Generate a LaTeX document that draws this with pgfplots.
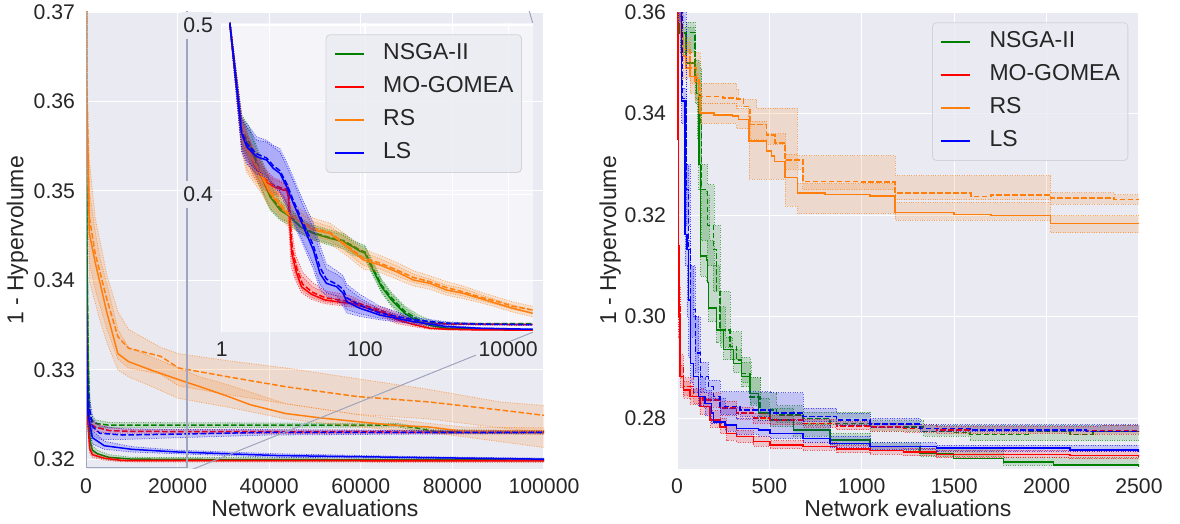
\documentclass[border=0pt]{standalone}
\usepackage{fontspec}
\setmainfont{Liberation Sans}
\usepackage{pgfplots}
\pgfplotsset{compat=1.18}
\definecolor{bg}{HTML}{EAEAF2}
\definecolor{txt}{HTML}{262626}
\definecolor{cG}{HTML}{008000}
\definecolor{cR}{HTML}{FF0000}
\definecolor{cO}{HTML}{FF7F0E}
\definecolor{cB}{HTML}{0000FF}
\definecolor{rectc}{HTML}{9FA5BC}
\definecolor{legedge}{HTML}{D2D2DA}
\pgfplotsset{
  sb/.style={
    scale only axis, anchor=south west,
    axis background/.style={fill=bg},
    axis line style={draw=none},
    major tick length=0pt, minor tick length=0pt,
    xmajorgrids, ymajorgrids,
    major grid style={white, line width=0.6pt},
    tick label style={font=\fontsize{10.6}{12}\selectfont, text=txt},
    xticklabel style={anchor=north, inner sep=0pt, yshift=-4.65pt},
    yticklabel style={anchor=east, inner sep=0pt, xshift=-5.3pt},
    label style={font=\fontsize{11.5}{13.8}\selectfont, text=txt},
    xlabel style={anchor=base, inner sep=0pt},
    ylabel style={anchor=base, inner sep=0pt},
    scaled ticks=false,
  },
  leg/.style={
    legend image code/.code={\draw[##1] (0pt,0pt) -- (14.5pt,0pt);},
    legend cell align=left,
    legend style={at={#1}, anchor=north west,
      fill=bg, fill opacity=0.8, text opacity=1, draw=legedge, rounded corners=2pt,
      font=\fontsize{11.5}{13.8}\selectfont, text=txt,
      inner xsep=4pt, inner ysep=4.4pt, row sep=5.9pt,
      nodes={inner sep=0pt, text height=8.2pt, text depth=2.4pt},
      /tikz/every odd column/.append style={column sep=9.3pt}},
  },
  ln/.style={line width=0.75pt, forget plot},
  dsh/.style={dash pattern=on 2.8pt off 1.2pt},
  bedge/.style={line width=0.4pt, dash pattern=on 0.5pt off 0.7pt, draw opacity=0.6, forget plot},
  bfill/.style={fill=#1, fill opacity=0.16, draw=none, forget plot},
}
\begin{document}
\begin{tikzpicture}
\useasboundingbox (0,0) rectangle (590pt,262pt);
% ================= LEFT MAIN AXIS =================
\begin{axis}[sb, at={(43pt,27.5pt)}, width=229pt, height=228.5pt,
  xmin=0, xmax=100000, ymin=0.3189, ymax=0.37,
  xtick={0,20000,40000,60000,80000,100000}, xticklabels={0,20000,40000,60000,80000,100000},
  ytick={0.32,0.33,0.34,0.35,0.36,0.37}, yticklabels={0.32,0.33,0.34,0.35,0.36,0.37},
  xlabel={Network evaluations}, ylabel={1 - Hypervolume},
  xlabel style={at={(axis description cs:0.5,-0.105)}},
  ylabel style={at={(axis description cs:-0.1365,0.5)}},
]
% NSGA-II
\addplot[bfill=cG] coordinates {(1,0.5)(100,0.366)(200,0.350)(400,0.336)(600,0.329)(900,0.3235)(1400,0.3215)(2500,0.3210)(5000,0.3205)(10000,0.3202)(100000,0.3201)(100000,0.3197)(10000,0.3198)(5000,0.3199)(2500,0.3202)(1400,0.3205)(900,0.3210)(600,0.3235)(400,0.328)(200,0.338)(100,0.356)(1,0.5)};
\addplot[bedge,cG] coordinates {(1,0.5)(100,0.366)(200,0.350)(400,0.336)(600,0.329)(900,0.3235)(1400,0.3215)(2500,0.3210)(5000,0.3205)(10000,0.3202)(100000,0.3201)};
\addplot[bedge,cG] coordinates {(1,0.5)(100,0.356)(200,0.338)(400,0.328)(600,0.3235)(900,0.3210)(1400,0.3205)(2500,0.3202)(5000,0.3199)(10000,0.3198)(100000,0.3197)};
\addplot[bfill=cG] coordinates {(1,0.5)(100,0.366)(200,0.350)(400,0.337)(700,0.329)(1000,0.3252)(2000,0.3244)(5000,0.3241)(68000,0.3240)(76000,0.3233)(100000,0.3232)(100000,0.3228)(76000,0.3229)(72000,0.3232)(68000,0.3236)(5000,0.3235)(2000,0.3235)(1000,0.3238)(700,0.3245)(400,0.329)(200,0.339)(100,0.357)(1,0.5)};
\addplot[bedge,cG] coordinates {(1,0.5)(100,0.366)(200,0.350)(400,0.337)(700,0.329)(1000,0.3252)(2000,0.3244)(5000,0.3241)(68000,0.3240)(76000,0.3233)(100000,0.3232)};
\addplot[bedge,cG] coordinates {(1,0.5)(100,0.357)(200,0.339)(400,0.329)(700,0.3245)(1000,0.3238)(2000,0.3235)(5000,0.3235)(68000,0.3236)(72000,0.3232)(76000,0.3229)(100000,0.3228)};
\addplot[ln,cG] coordinates {(1,0.5)(100,0.3613)(200,0.3436)(400,0.3318)(600,0.3259)(900,0.3220)(1400,0.3210)(2500,0.3206)(5000,0.3202)(10000,0.3200)(30000,0.31995)(100000,0.3199)};
\addplot[ln,dsh,cG] coordinates {(1,0.5)(100,0.3620)(200,0.3445)(400,0.3330)(700,0.3265)(1000,0.3245)(2000,0.3240)(5000,0.3238)(68000,0.3238)(72000,0.3235)(76000,0.3231)(100000,0.3230)};
% MO-GOMEA
\addplot[bfill=cR] coordinates {(1,0.5)(10,0.368)(40,0.340)(100,0.335)(300,0.3260)(800,0.3218)(1400,0.3208)(4000,0.3203)(8000,0.3200)(100000,0.31995)(100000,0.31965)(8000,0.3197)(4000,0.3199)(1400,0.3202)(800,0.3207)(300,0.3240)(100,0.331)(40,0.335)(10,0.355)(1,0.5)};
\addplot[bedge,cR] coordinates {(1,0.5)(10,0.368)(40,0.340)(100,0.335)(300,0.3260)(800,0.3218)(1400,0.3208)(4000,0.3203)(8000,0.3200)(100000,0.31995)};
\addplot[bedge,cR] coordinates {(1,0.5)(10,0.355)(40,0.335)(100,0.331)(300,0.3240)(800,0.3207)(1400,0.3202)(4000,0.3199)(8000,0.3197)(100000,0.31965)};
\addplot[bfill=cR] coordinates {(1,0.5)(10,0.370)(40,0.342)(100,0.336)(300,0.3272)(800,0.3246)(2000,0.3240)(5000,0.3235)(10000,0.3233)(100000,0.3232)(100000,0.3228)(10000,0.3229)(5000,0.3229)(2000,0.3231)(800,0.3234)(300,0.3252)(100,0.332)(40,0.336)(10,0.358)(1,0.5)};
\addplot[bedge,cR] coordinates {(1,0.5)(10,0.370)(40,0.342)(100,0.336)(300,0.3272)(800,0.3246)(2000,0.3240)(5000,0.3235)(10000,0.3233)(100000,0.3232)};
\addplot[bedge,cR] coordinates {(1,0.5)(10,0.358)(40,0.336)(100,0.332)(300,0.3252)(800,0.3234)(2000,0.3231)(5000,0.3229)(10000,0.3229)(100000,0.3228)};
\addplot[ln,cR] coordinates {(1,0.5)(10,0.3613)(40,0.3377)(100,0.3330)(300,0.3249)(800,0.3212)(1400,0.3205)(4000,0.3201)(8000,0.31985)(100000,0.3198)};
\addplot[ln,dsh,cR] coordinates {(1,0.5)(10,0.3640)(40,0.3390)(100,0.3340)(300,0.3262)(800,0.3240)(2000,0.3236)(5000,0.3232)(10000,0.3231)(100000,0.3230)};
% RS
\addplot[bfill=cO] coordinates {(1,0.5)(300,0.358)(500,0.3555)(720,0.350)(2000,0.3455)(3060,0.3425)(4600,0.3395)(6960,0.3345)(9300,0.3325)(14000,0.3315)(20200,0.3302)(24900,0.3292)(31100,0.3283)(43600,0.3262)(59200,0.3250)(74800,0.3240)(82600,0.3236)(100000,0.3235)(100000,0.3213)(82600,0.3225)(74800,0.3230)(59200,0.3236)(43600,0.3245)(31100,0.3258)(20200,0.3268)(14000,0.3282)(9300,0.3292)(6960,0.3300)(4600,0.3330)(3060,0.3355)(2000,0.3375)(720,0.340)(500,0.347)(300,0.350)(1,0.5)};
\addplot[bedge,cO] coordinates {(1,0.5)(300,0.358)(500,0.3555)(720,0.350)(2000,0.3455)(3060,0.3425)(4600,0.3395)(6960,0.3345)(9300,0.3325)(14000,0.3315)(20200,0.3302)(24900,0.3292)(31100,0.3283)(43600,0.3262)(59200,0.3250)(74800,0.3240)(82600,0.3236)(100000,0.3235)};
\addplot[bedge,cO] coordinates {(1,0.5)(300,0.350)(500,0.347)(720,0.340)(2000,0.3375)(3060,0.3355)(4600,0.3330)(6960,0.3300)(9300,0.3292)(14000,0.3282)(20200,0.3268)(31100,0.3258)(43600,0.3245)(59200,0.3236)(74800,0.3230)(82600,0.3225)(100000,0.3213)};
\addplot[bfill=cO] coordinates {(1,0.5)(300,0.362)(720,0.3535)(2000,0.3470)(4600,0.3405)(6960,0.3365)(9300,0.3345)(16300,0.3325)(20200,0.3318)(31100,0.3310)(43600,0.3302)(59200,0.3290)(74800,0.3278)(90400,0.3264)(100000,0.3260)(100000,0.3230)(90400,0.3235)(74800,0.3245)(59200,0.3250)(43600,0.3262)(31100,0.3272)(20200,0.3282)(16300,0.3295)(9300,0.3302)(6960,0.3312)(4600,0.3345)(2000,0.339)(720,0.342)(300,0.354)(1,0.5)};
\addplot[bedge,cO] coordinates {(1,0.5)(300,0.362)(720,0.3535)(2000,0.3470)(4600,0.3405)(6960,0.3365)(9300,0.3345)(16300,0.3325)(20200,0.3318)(31100,0.3310)(43600,0.3302)(59200,0.3290)(74800,0.3278)(90400,0.3264)(100000,0.3260)};
\addplot[bedge,cO] coordinates {(1,0.5)(300,0.354)(720,0.342)(2000,0.339)(4600,0.3345)(6960,0.3312)(9300,0.3302)(16300,0.3295)(20200,0.3282)(31100,0.3272)(43600,0.3262)(59200,0.3250)(74800,0.3245)(90400,0.3235)(100000,0.3230)};
\addplot[ln,cO] coordinates {(1,0.5)(100,0.3613)(300,0.3560)(500,0.3527)(720,0.3453)(2000,0.3420)(3060,0.3397)(4600,0.3363)(6960,0.3318)(9300,0.3309)(14000,0.3300)(20200,0.3289)(24900,0.3281)(31100,0.3270)(35800,0.3261)(43600,0.3251)(51400,0.3246)(59200,0.3242)(67000,0.3238)(74800,0.3236)(82600,0.3231)(100000,0.3231)};
\addplot[ln,dsh,cO] coordinates {(1,0.5)(100,0.3630)(300,0.3580)(720,0.3471)(2000,0.3430)(4600,0.3378)(6960,0.3337)(9300,0.3324)(16300,0.3315)(20200,0.3302)(31100,0.3292)(43600,0.3281)(59200,0.3270)(74800,0.3264)(90400,0.3255)(100000,0.3249)};
% LS
\addplot[bfill=cB] coordinates {(1,0.5)(20,0.373)(50,0.343)(160,0.332)(470,0.3262)(1400,0.3232)(4000,0.3220)(10000,0.3214)(20000,0.3210)(42000,0.3206)(70000,0.3203)(100000,0.3201)(100000,0.3199)(70000,0.3201)(42000,0.3202)(20000,0.3206)(10000,0.3208)(4000,0.3211)(1400,0.3217)(470,0.3238)(160,0.3265)(50,0.331)(20,0.361)(1,0.5)};
\addplot[bedge,cB] coordinates {(1,0.5)(20,0.373)(50,0.343)(160,0.332)(470,0.3262)(1400,0.3232)(4000,0.3220)(10000,0.3214)(20000,0.3210)(42000,0.3206)(70000,0.3203)(100000,0.3201)};
\addplot[bedge,cB] coordinates {(1,0.5)(20,0.361)(50,0.331)(160,0.3265)(470,0.3238)(1400,0.3217)(4000,0.3211)(10000,0.3208)(20000,0.3206)(42000,0.3202)(70000,0.3201)(100000,0.3199)};
\addplot[bfill=cB] coordinates {(1,0.5)(20,0.375)(60,0.345)(200,0.334)(600,0.3275)(1500,0.3245)(3000,0.3237)(8000,0.3234)(20000,0.3233)(40000,0.3233)(70000,0.3232)(100000,0.3231)(100000,0.3229)(70000,0.3228)(40000,0.3227)(20000,0.3224)(8000,0.3222)(3000,0.3222)(1500,0.3226)(600,0.3245)(200,0.327)(60,0.333)(20,0.362)(1,0.5)};
\addplot[bedge,cB] coordinates {(1,0.5)(20,0.375)(60,0.345)(200,0.334)(600,0.3275)(1500,0.3245)(3000,0.3237)(8000,0.3234)(20000,0.3233)(40000,0.3233)(70000,0.3232)(100000,0.3231)};
\addplot[bedge,cB] coordinates {(1,0.5)(20,0.362)(60,0.333)(200,0.327)(600,0.3245)(1500,0.3226)(3000,0.3222)(8000,0.3222)(20000,0.3224)(40000,0.3227)(70000,0.3228)(100000,0.3229)};
\addplot[ln,cB] coordinates {(1,0.5)(20,0.3672)(50,0.3367)(160,0.3288)(470,0.3249)(1400,0.3224)(4000,0.3215)(10000,0.3211)(20000,0.3208)(42000,0.3204)(70000,0.3202)(100000,0.3200)};
\addplot[ln,dsh,cB] coordinates {(1,0.5)(20,0.3690)(60,0.3390)(200,0.3300)(600,0.3260)(1500,0.3236)(3000,0.3229)(8000,0.3227)(20000,0.3228)(40000,0.3230)(100000,0.3230)};
% inset marker and connectors
\addplot[rectc, line width=0.8pt, forget plot] coordinates {(150,0.31905)(22000,0.31905)(22000,0.5014)(150,0.5014)(150,0.31905)};
\addplot[rectc, line width=0.5pt, forget plot] coordinates {(22000,0.3186)(97533,0.33419)};
\addplot[rectc, line width=0.5pt, forget plot] coordinates {(22000,0.5014)(97533,0.36878)};
\end{axis}
% ================= INSET =================
\begin{axis}[sb, leg={(0.3344,0.9625)}, at={(110.85pt,95.85pt)}, width=155.5pt, height=154.8pt,
  axis background/.style={fill=white, fill opacity=0.55},
  xmode=log, xmin=1, xmax=22000, ymin=0.3186, ymax=0.5014,
  xtick={1,100,10000}, xticklabels={1,100,10000},
  ytick={0.4,0.5}, yticklabels={0.4,0.5},
  xticklabel style={fill=bg, inner xsep=1.5pt, inner ysep=0.5pt, yshift=0.5pt},
  yticklabel style={fill=bg, inner xsep=0.5pt, inner ysep=3pt, xshift=1.6pt},
]
\addlegendimage{cG, line width=0.75pt}
\addlegendimage{cR, line width=0.75pt}
\addlegendimage{cO, line width=0.75pt}
\addlegendimage{cB, line width=0.75pt}
% NSGA-II
\addplot[bfill=cG] coordinates {(1.3,0.503)(1.9,0.445)(2.48,0.437)(3.43,0.421)(4.72,0.406)(6.5,0.396)(9,0.391)(12.3,0.385)(18.9,0.381)(32.4,0.378)(49.7,0.376)(68.5,0.372)(85,0.370)(100,0.369)(123,0.361)(170,0.349)(235,0.341)(360,0.333)(550,0.3275)(850,0.3240)(1372,0.3216)(4000,0.3207)(22000,0.3202)(22000,0.3198)(4000,0.3201)(1372,0.3205)(850,0.3218)(550,0.3225)(360,0.3268)(235,0.334)(170,0.342)(123,0.354)(100,0.362)(85,0.363)(68.5,0.364)(49.7,0.368)(32.4,0.370)(18.9,0.373)(12.3,0.377)(9,0.382)(6.5,0.385)(4.72,0.391)(3.43,0.404)(2.48,0.419)(1.9,0.428)(1.3,0.499)};
\addplot[bedge,cG] coordinates {(1.3,0.503)(1.9,0.445)(2.48,0.437)(3.43,0.421)(4.72,0.406)(6.5,0.396)(9,0.391)(12.3,0.385)(18.9,0.381)(32.4,0.378)(49.7,0.376)(68.5,0.372)(85,0.370)(100,0.369)(123,0.361)(170,0.349)(235,0.341)(360,0.333)(550,0.3275)(850,0.3240)(1372,0.3216)(4000,0.3207)(22000,0.3202)};
\addplot[bedge,cG] coordinates {(1.3,0.499)(1.9,0.428)(2.48,0.419)(3.43,0.404)(4.72,0.391)(6.5,0.385)(9,0.382)(12.3,0.377)(18.9,0.373)(32.4,0.370)(49.7,0.368)(68.5,0.364)(85,0.363)(100,0.362)(123,0.354)(170,0.342)(235,0.334)(360,0.3268)(550,0.3225)(850,0.3218)(1372,0.3205)(4000,0.3201)(22000,0.3198)};
\addplot[bfill=cG] coordinates {(1.3,0.503)(1.9,0.447)(2.48,0.439)(3.43,0.423)(4.72,0.408)(6.5,0.398)(9,0.392)(12.3,0.386)(18.9,0.382)(32.4,0.379)(49.7,0.377)(68.5,0.373)(85,0.371)(100,0.370)(123,0.362)(170,0.350)(235,0.342)(360,0.334)(550,0.3290)(850,0.3255)(1372,0.3243)(4000,0.3240)(22000,0.3239)(22000,0.3234)(4000,0.3234)(1372,0.3234)(850,0.3236)(550,0.3245)(360,0.3280)(235,0.335)(170,0.343)(123,0.355)(100,0.363)(85,0.364)(68.5,0.365)(49.7,0.369)(32.4,0.371)(18.9,0.374)(12.3,0.378)(9,0.383)(6.5,0.386)(4.72,0.392)(3.43,0.406)(2.48,0.421)(1.9,0.430)(1.3,0.499)};
\addplot[bedge,cG] coordinates {(1.3,0.503)(1.9,0.447)(2.48,0.439)(3.43,0.423)(4.72,0.408)(6.5,0.398)(9,0.392)(12.3,0.386)(18.9,0.382)(32.4,0.379)(49.7,0.377)(68.5,0.373)(85,0.371)(100,0.370)(123,0.362)(170,0.350)(235,0.342)(360,0.334)(550,0.3290)(850,0.3255)(1372,0.3243)(4000,0.3240)(22000,0.3239)};
\addplot[bedge,cG] coordinates {(1.3,0.499)(1.9,0.430)(2.48,0.421)(3.43,0.406)(4.72,0.392)(6.5,0.386)(9,0.383)(12.3,0.378)(18.9,0.374)(32.4,0.371)(49.7,0.369)(68.5,0.365)(85,0.364)(100,0.363)(123,0.355)(170,0.343)(235,0.335)(360,0.3280)(550,0.3245)(850,0.3236)(1372,0.3234)(4000,0.3234)(22000,0.3234)};
\addplot[ln,cG] coordinates {(1.3,0.501)(1.9,0.4361)(2.48,0.4282)(3.43,0.4125)(4.72,0.3987)(6.5,0.3908)(9,0.3869)(12.3,0.3810)(18.9,0.3770)(32.4,0.3741)(49.7,0.3721)(68.5,0.3690)(85,0.3665)(100,0.3653)(123,0.3573)(170,0.3455)(235,0.3377)(360,0.3298)(550,0.3249)(850,0.3225)(1372,0.3210)(4000,0.3204)(22000,0.3200)};
\addplot[ln,dsh,cG] coordinates {(1.3,0.501)(1.9,0.4380)(2.48,0.4300)(3.43,0.4140)(4.72,0.4000)(6.5,0.3920)(9,0.3875)(12.3,0.3815)(18.9,0.3775)(32.4,0.3745)(49.7,0.3728)(68.5,0.3695)(85,0.3672)(100,0.3660)(123,0.3585)(170,0.3465)(235,0.3390)(360,0.3310)(550,0.3262)(850,0.3243)(1372,0.3238)(4000,0.3237)(22000,0.3237)};
% MO-GOMEA
\addplot[bfill=cR] coordinates {(1.3,0.503)(1.9,0.444)(2.76,0.425)(3.8,0.414)(5.25,0.409)(7.25,0.4065)(8.3,0.405)(8.8,0.392)(9.3,0.376)(10.5,0.362)(13,0.352)(18,0.346)(27.6,0.3415)(52,0.3395)(68.5,0.338)(105,0.334)(190,0.3320)(275,0.3290)(473,0.3245)(804,0.3218)(1372,0.3208)(4000,0.3202)(22000,0.3201)(22000,0.3196)(4000,0.3197)(1372,0.3200)(804,0.3204)(473,0.3220)(275,0.3238)(190,0.3272)(105,0.3320)(68.5,0.3335)(52,0.3340)(27.6,0.3355)(18,0.3380)(13,0.3420)(10.5,0.350)(9.3,0.358)(8.8,0.375)(8.3,0.392)(7.25,0.398)(5.25,0.400)(3.8,0.403)(2.76,0.411)(1.9,0.428)(1.3,0.499)};
\addplot[bedge,cR] coordinates {(1.3,0.503)(1.9,0.444)(2.76,0.425)(3.8,0.414)(5.25,0.409)(7.25,0.4065)(8.3,0.405)(8.8,0.392)(9.3,0.376)(10.5,0.362)(13,0.352)(18,0.346)(27.6,0.3415)(52,0.3395)(68.5,0.338)(105,0.334)(190,0.3320)(275,0.3290)(473,0.3245)(804,0.3218)(1372,0.3208)(4000,0.3202)(22000,0.3201)};
\addplot[bedge,cR] coordinates {(1.3,0.499)(1.9,0.428)(2.76,0.411)(3.8,0.403)(5.25,0.400)(7.25,0.398)(8.3,0.392)(8.8,0.375)(9.3,0.358)(10.5,0.350)(13,0.3420)(18,0.3380)(27.6,0.3355)(52,0.3340)(68.5,0.3335)(105,0.3320)(190,0.3272)(275,0.3238)(473,0.3220)(804,0.3204)(1372,0.3200)(4000,0.3197)(22000,0.3196)};
\addplot[bfill=cR] coordinates {(1.3,0.503)(1.9,0.446)(2.76,0.427)(3.8,0.416)(5.25,0.410)(7.25,0.4075)(8.5,0.406)(9,0.393)(9.6,0.378)(10.8,0.364)(13.5,0.354)(18.5,0.348)(28,0.3430)(52,0.3410)(68.5,0.3395)(105,0.3355)(190,0.3330)(275,0.3300)(473,0.3260)(804,0.3243)(1372,0.3239)(4000,0.3236)(22000,0.3234)(22000,0.3228)(4000,0.3229)(1372,0.3230)(804,0.3231)(473,0.3235)(275,0.3250)(190,0.3282)(105,0.3330)(68.5,0.3345)(52,0.3350)(28,0.3365)(18.5,0.3390)(13.5,0.3430)(10.8,0.351)(9.6,0.360)(9,0.377)(8.5,0.393)(7.25,0.3995)(5.25,0.401)(3.8,0.405)(2.76,0.413)(1.9,0.430)(1.3,0.499)};
\addplot[bedge,cR] coordinates {(1.3,0.503)(1.9,0.446)(2.76,0.427)(3.8,0.416)(5.25,0.410)(7.25,0.4075)(8.5,0.406)(9,0.393)(9.6,0.378)(10.8,0.364)(13.5,0.354)(18.5,0.348)(28,0.3430)(52,0.3410)(68.5,0.3395)(105,0.3355)(190,0.3330)(275,0.3300)(473,0.3260)(804,0.3243)(1372,0.3239)(4000,0.3236)(22000,0.3234)};
\addplot[bedge,cR] coordinates {(1.3,0.499)(1.9,0.430)(2.76,0.413)(3.8,0.405)(5.25,0.401)(7.25,0.3995)(8.5,0.393)(9,0.377)(9.6,0.360)(10.8,0.351)(13.5,0.3430)(18.5,0.3390)(28,0.3365)(52,0.3350)(68.5,0.3345)(105,0.3330)(190,0.3282)(275,0.3250)(473,0.3235)(804,0.3231)(1372,0.3230)(4000,0.3229)(22000,0.3228)};
\addplot[ln,cR] coordinates {(1.3,0.501)(1.9,0.4361)(2.76,0.4184)(3.8,0.4085)(5.25,0.4046)(7.25,0.4026)(8.06,0.4026)(8.5,0.3987)(9,0.3800)(9.5,0.3655)(11,0.3540)(13,0.3455)(18,0.3410)(27.6,0.3377)(52,0.3360)(68.5,0.3357)(105,0.3330)(190,0.3298)(275,0.3262)(473,0.3232)(804,0.3210)(1372,0.3204)(4000,0.3200)(22000,0.3199)};
\addplot[ln,dsh,cR] coordinates {(1.3,0.501)(1.9,0.4380)(2.76,0.4200)(3.8,0.4100)(5.25,0.4055)(7.25,0.4035)(8.3,0.4030)(8.7,0.3990)(9.2,0.3810)(9.7,0.3670)(11.3,0.3555)(13.5,0.3470)(18.5,0.3422)(28,0.3390)(52,0.3372)(68.5,0.3368)(105,0.3342)(190,0.3306)(275,0.3275)(473,0.3248)(804,0.3237)(1372,0.3235)(4000,0.3233)(22000,0.3231)};
% RS
\addplot[bfill=cO] coordinates {(1.3,0.503)(1.9,0.444)(2.23,0.434)(3.43,0.420)(4.72,0.408)(8.06,0.395)(19,0.384)(32.4,0.381)(55.5,0.374)(94.8,0.366)(161,0.362)(275,0.358)(473,0.353)(804,0.350)(1372,0.3465)(2340,0.3445)(4000,0.3410)(6820,0.3378)(11600,0.3348)(22000,0.3318)(22000,0.3278)(11600,0.3305)(6820,0.3335)(4000,0.3362)(2340,0.3385)(1372,0.3405)(804,0.344)(473,0.346)(275,0.350)(161,0.354)(94.8,0.356)(55.5,0.364)(32.4,0.371)(19,0.373)(8.06,0.382)(4.72,0.392)(3.43,0.402)(2.23,0.413)(1.9,0.425)(1.3,0.499)};
\addplot[bedge,cO] coordinates {(1.3,0.503)(1.9,0.444)(2.23,0.434)(3.43,0.420)(4.72,0.408)(8.06,0.395)(19,0.384)(32.4,0.381)(55.5,0.374)(94.8,0.366)(161,0.362)(275,0.358)(473,0.353)(804,0.350)(1372,0.3465)(2340,0.3445)(4000,0.3410)(6820,0.3378)(11600,0.3348)(22000,0.3318)};
\addplot[bedge,cO] coordinates {(1.3,0.499)(1.9,0.425)(2.23,0.413)(3.43,0.402)(4.72,0.392)(8.06,0.382)(19,0.373)(32.4,0.371)(55.5,0.364)(94.8,0.356)(161,0.354)(275,0.350)(473,0.346)(804,0.344)(1372,0.3405)(2340,0.3385)(4000,0.3362)(6820,0.3335)(11600,0.3305)(22000,0.3278)};
\addplot[bfill=cO] coordinates {(1.3,0.503)(1.9,0.446)(2.23,0.436)(3.43,0.422)(4.72,0.410)(8.06,0.397)(19,0.386)(32.4,0.383)(55.5,0.376)(94.8,0.368)(161,0.364)(275,0.360)(473,0.355)(804,0.352)(1372,0.3485)(2340,0.3460)(4000,0.3425)(6820,0.3395)(11600,0.3365)(22000,0.3340)(22000,0.3298)(11600,0.3320)(6820,0.3350)(4000,0.3375)(2340,0.3400)(1372,0.3420)(804,0.346)(473,0.348)(275,0.352)(161,0.356)(94.8,0.358)(55.5,0.366)(32.4,0.373)(19,0.375)(8.06,0.384)(4.72,0.394)(3.43,0.404)(2.23,0.415)(1.9,0.427)(1.3,0.499)};
\addplot[bedge,cO] coordinates {(1.3,0.503)(1.9,0.446)(2.23,0.436)(3.43,0.422)(4.72,0.410)(8.06,0.397)(19,0.386)(32.4,0.383)(55.5,0.376)(94.8,0.368)(161,0.364)(275,0.360)(473,0.355)(804,0.352)(1372,0.3485)(2340,0.3460)(4000,0.3425)(6820,0.3395)(11600,0.3365)(22000,0.3340)};
\addplot[bedge,cO] coordinates {(1.3,0.499)(1.9,0.427)(2.23,0.415)(3.43,0.404)(4.72,0.394)(8.06,0.384)(19,0.375)(32.4,0.373)(55.5,0.366)(94.8,0.358)(161,0.356)(275,0.352)(473,0.348)(804,0.346)(1372,0.3420)(2340,0.3400)(4000,0.3375)(6820,0.3350)(11600,0.3320)(22000,0.3298)};
\addplot[ln,cO] coordinates {(1.3,0.501)(1.9,0.4380)(2.23,0.4262)(3.43,0.4125)(4.72,0.4007)(8.06,0.3888)(19,0.3790)(32.4,0.3770)(55.5,0.3692)(94.8,0.3613)(161,0.3584)(275,0.3544)(473,0.3495)(804,0.3475)(1372,0.3436)(2340,0.3416)(4000,0.3387)(6820,0.3357)(11600,0.3328)(22000,0.3298)};
\addplot[ln,dsh,cO] coordinates {(1.3,0.501)(1.9,0.4390)(2.23,0.4275)(3.43,0.4140)(4.72,0.4020)(8.06,0.3900)(19,0.3800)(32.4,0.3778)(55.5,0.3700)(94.8,0.3625)(161,0.3595)(275,0.3555)(473,0.3510)(804,0.3485)(1372,0.3450)(2340,0.3425)(4000,0.3395)(6820,0.3370)(11600,0.3340)(22000,0.3318)};
% LS
\addplot[bfill=cB] coordinates {(1.3,0.503)(1.9,0.444)(2.23,0.440)(3.08,0.432)(4.24,0.431)(5.25,0.428)(6.5,0.425)(8.06,0.417)(10,0.408)(13.8,0.393)(19,0.380)(23.5,0.366)(29,0.356)(40,0.353)(49.7,0.350)(55.5,0.345)(85,0.339)(161,0.332)(473,0.3265)(1372,0.3228)(4000,0.3213)(22000,0.3206)(22000,0.3202)(4000,0.3207)(1372,0.3213)(473,0.3235)(161,0.3260)(85,0.3280)(55.5,0.330)(49.7,0.334)(40,0.338)(29,0.340)(23.5,0.344)(19,0.356)(13.8,0.370)(10,0.383)(8.06,0.393)(6.5,0.401)(5.25,0.405)(4.24,0.410)(3.08,0.412)(2.23,0.418)(1.9,0.425)(1.3,0.499)};
\addplot[bedge,cB] coordinates {(1.3,0.503)(1.9,0.444)(2.23,0.440)(3.08,0.432)(4.24,0.431)(5.25,0.428)(6.5,0.425)(8.06,0.417)(10,0.408)(13.8,0.393)(19,0.380)(23.5,0.366)(29,0.356)(40,0.353)(49.7,0.350)(55.5,0.345)(85,0.339)(161,0.332)(473,0.3265)(1372,0.3228)(4000,0.3213)(22000,0.3206)};
\addplot[bedge,cB] coordinates {(1.3,0.499)(1.9,0.425)(2.23,0.418)(3.08,0.412)(4.24,0.410)(5.25,0.405)(6.5,0.401)(8.06,0.393)(10,0.383)(13.8,0.370)(19,0.356)(23.5,0.344)(29,0.340)(40,0.338)(49.7,0.334)(55.5,0.330)(85,0.3280)(161,0.3260)(473,0.3235)(1372,0.3213)(4000,0.3207)(22000,0.3202)};
\addplot[bfill=cB] coordinates {(1.3,0.503)(1.9,0.445)(2.23,0.442)(3.08,0.434)(4.24,0.432)(5.25,0.429)(6.5,0.427)(8.06,0.419)(10,0.410)(13.8,0.396)(19,0.383)(23.5,0.370)(29,0.359)(40,0.355)(49.7,0.352)(55.5,0.347)(85,0.341)(161,0.334)(473,0.3275)(1372,0.3248)(4000,0.3238)(22000,0.3233)(22000,0.3228)(4000,0.3229)(1372,0.3232)(473,0.3245)(161,0.3270)(85,0.3295)(55.5,0.332)(49.7,0.336)(40,0.340)(29,0.342)(23.5,0.347)(19,0.359)(13.8,0.372)(10,0.385)(8.06,0.395)(6.5,0.402)(5.25,0.406)(4.24,0.411)(3.08,0.414)(2.23,0.420)(1.9,0.427)(1.3,0.499)};
\addplot[bedge,cB] coordinates {(1.3,0.503)(1.9,0.445)(2.23,0.442)(3.08,0.434)(4.24,0.432)(5.25,0.429)(6.5,0.427)(8.06,0.419)(10,0.410)(13.8,0.396)(19,0.383)(23.5,0.370)(29,0.359)(40,0.355)(49.7,0.352)(55.5,0.347)(85,0.341)(161,0.334)(473,0.3275)(1372,0.3248)(4000,0.3238)(22000,0.3233)};
\addplot[bedge,cB] coordinates {(1.3,0.499)(1.9,0.427)(2.23,0.420)(3.08,0.414)(4.24,0.411)(5.25,0.406)(6.5,0.402)(8.06,0.395)(10,0.385)(13.8,0.372)(19,0.359)(23.5,0.347)(29,0.342)(40,0.340)(49.7,0.336)(55.5,0.332)(85,0.3295)(161,0.3270)(473,0.3245)(1372,0.3232)(4000,0.3229)(22000,0.3228)};
\addplot[ln,cB] coordinates {(1.3,0.501)(1.9,0.4361)(2.23,0.4282)(3.08,0.4223)(4.24,0.4203)(5.25,0.4154)(6.5,0.4125)(8.06,0.4046)(10,0.3948)(13.8,0.3810)(19,0.3672)(23.5,0.3534)(29,0.3475)(40,0.3456)(49.7,0.3416)(55.5,0.3367)(85,0.3328)(161,0.3288)(473,0.3249)(1372,0.3220)(4000,0.3210)(22000,0.3204)};
\addplot[ln,dsh,cB] coordinates {(1.3,0.501)(1.9,0.4370)(2.23,0.4300)(3.08,0.4240)(4.24,0.4215)(5.25,0.4170)(6.5,0.4140)(8.06,0.4065)(10,0.3965)(13.8,0.3830)(19,0.3700)(23.5,0.3570)(29,0.3500)(40,0.3470)(49.7,0.3440)(55.5,0.3390)(85,0.3345)(161,0.3300)(473,0.3260)(1372,0.3240)(4000,0.3234)(22000,0.3231)};
\legend{NSGA-II,MO-GOMEA,RS,LS}
\end{axis}
% ================= RIGHT AXIS =================
\begin{axis}[sb, leg={(0.552,0.9775)}, at={(338.5pt,27.5pt)}, width=231pt, height=228.5pt,
  xmin=0, xmax=2500, ymin=0.27, ymax=0.36,
  xtick={0,500,1000,1500,2000,2500}, xticklabels={0,500,1000,1500,2000,2500},
  ytick={0.28,0.30,0.32,0.34,0.36}, yticklabels={0.28,0.30,0.32,0.34,0.36},
  xlabel={Network evaluations}, ylabel={1 - Hypervolume},
  xlabel style={at={(axis description cs:0.5,-0.105)}},
  ylabel style={at={(axis description cs:-0.132,0.5)}},
]
\addlegendimage{cG, line width=0.75pt}
\addlegendimage{cR, line width=0.75pt}
\addlegendimage{cO, line width=0.75pt}
\addlegendimage{cB, line width=0.75pt}
% NSGA-II
\addplot[bfill=cG,const plot] coordinates {(0,0.50)(16,0.357)(97,0.350)(124,0.3480)(130,0.3250)(160,0.3240)(175,0.3150)(200,0.3100)(230,0.3020)(260,0.2960)(300,0.2935)(350,0.2910)(400,0.2880)(450,0.2840)(500,0.2820)(630,0.2790)(828,0.2770)(1044,0.2752)(1315,0.2740)(1766,0.2722)(2500,0.2710)(2500,0.2707)(1766,0.2725)(1315,0.2737)(1044,0.2748)(828,0.2765)(630,0.2783)(503,0.2795)(440,0.2830)(395,0.2862)(350,0.2890)(305,0.2915)(251,0.2950)(215,0.2990)(170,0.3070)(160,0.3080)(126,0.3250)(118,0.335)(110,0.343)(97,0.352)(16,0.50)(0,0.50)};
\addplot[bedge,const plot,cG] coordinates {(0,0.50)(16,0.357)(97,0.350)(124,0.3480)(130,0.3250)(160,0.3240)(175,0.3150)(200,0.3100)(230,0.3020)(260,0.2960)(300,0.2935)(350,0.2910)(400,0.2880)(450,0.2840)(500,0.2820)(630,0.2790)(828,0.2770)(1044,0.2752)(1315,0.2740)(1766,0.2722)(2500,0.2710)};
\addplot[bedge,const plot,cG] coordinates {(0,0.50)(16,0.352)(97,0.343)(110,0.335)(118,0.3250)(126,0.3080)(160,0.3070)(170,0.2990)(215,0.2950)(251,0.2915)(305,0.2890)(350,0.2862)(395,0.2830)(440,0.2795)(503,0.2783)(630,0.2765)(828,0.2748)(1044,0.2737)(1315,0.2725)(1766,0.2707)(2500,0.2697)};
\addplot[bfill=cG,const plot] coordinates {(0,0.50)(16,0.358)(97,0.3505)(124,0.3490)(133,0.3300)(165,0.3260)(200,0.3180)(233,0.3050)(287,0.2970)(350,0.2920)(395,0.2880)(449,0.2850)(539,0.2825)(683,0.2812)(1044,0.2795)(1333,0.2785)(2500,0.2782)(2500,0.2756)(1585,0.2765)(1333,0.2775)(1044,0.2787)(683,0.2792)(539,0.2800)(449,0.2825)(395,0.2870)(350,0.2915)(287,0.2940)(233,0.3050)(197,0.3100)(165,0.3150)(133,0.330)(120,0.3420)(97,0.352)(16,0.50)(0,0.50)};
\addplot[bedge,const plot,cG] coordinates {(0,0.50)(16,0.358)(97,0.3505)(124,0.3490)(133,0.3300)(165,0.3260)(200,0.3180)(233,0.3050)(287,0.2970)(350,0.2920)(395,0.2880)(449,0.2850)(539,0.2825)(683,0.2812)(1044,0.2795)(1333,0.2785)(2500,0.2782)};
\addplot[bedge,const plot,cG] coordinates {(0,0.50)(16,0.352)(97,0.3420)(120,0.330)(133,0.3150)(165,0.3100)(197,0.3050)(233,0.2940)(287,0.2915)(350,0.2870)(395,0.2825)(449,0.2800)(539,0.2792)(683,0.2787)(1044,0.2775)(1333,0.2765)(1585,0.2756)(2500,0.2756)};
\addplot[ln,const plot,cG] coordinates {(0,0.50)(16,0.3559)(50,0.350)(97,0.3467)(106,0.3440)(115,0.3408)(120,0.3300)(126,0.3119)(160,0.3112)(164,0.3067)(170,0.3017)(197,0.3017)(215,0.2974)(251,0.2935)(305,0.2908)(350,0.2882)(395,0.2849)(440,0.2810)(503,0.2796)(630,0.2777)(828,0.2757)(1044,0.2744)(1315,0.2731)(1495,0.2721)(1766,0.2714)(2037,0.2708)(2500,0.2703)};
\addplot[ln,dsh,const plot,cG] coordinates {(0,0.50)(16,0.356)(97,0.3470)(115,0.3440)(124,0.3380)(133,0.3250)(165,0.3180)(197,0.3132)(215,0.3050)(233,0.2974)(287,0.2941)(323,0.2915)(350,0.2888)(395,0.2842)(449,0.2816)(539,0.2806)(683,0.2799)(828,0.2790)(1044,0.2783)(1333,0.2774)(1495,0.2772)(1585,0.2768)(1901,0.2774)(2126,0.2768)(2252,0.2774)(2500,0.2774)};
% MO-GOMEA
\addplot[bfill=cR,const plot] coordinates {(0,0.50)(3,0.362)(7,0.318)(10,0.304)(16,0.2905)(34,0.2872)(70,0.2858)(124,0.2840)(179,0.2815)(233,0.2800)(269,0.2785)(323,0.2776)(413,0.2764)(503,0.2756)(683,0.2752)(864,0.2747)(1044,0.2744)(1225,0.2741)(1405,0.2737)(1766,0.2737)(2126,0.2735)(2500,0.2732)(2500,0.2720)(2126,0.2722)(1766,0.2722)(1405,0.2726)(1225,0.2729)(1044,0.2732)(864,0.2737)(683,0.2740)(503,0.2745)(413,0.2752)(323,0.2757)(269,0.2770)(233,0.2782)(179,0.2808)(124,0.2828)(70,0.2840)(34,0.2860)(16,0.296)(10,0.308)(7,0.355)(3,0.50)(0,0.50)};
\addplot[bedge,const plot,cR] coordinates {(0,0.50)(3,0.362)(7,0.318)(10,0.304)(16,0.2905)(34,0.2872)(70,0.2858)(124,0.2840)(179,0.2815)(233,0.2800)(269,0.2785)(323,0.2776)(413,0.2764)(503,0.2756)(683,0.2752)(864,0.2747)(1044,0.2744)(1225,0.2741)(1405,0.2737)(1766,0.2737)(2126,0.2735)(2500,0.2732)};
\addplot[bedge,const plot,cR] coordinates {(0,0.50)(3,0.355)(7,0.308)(10,0.296)(16,0.2860)(34,0.2840)(70,0.2828)(124,0.2808)(179,0.2782)(233,0.2770)(269,0.2757)(323,0.2752)(413,0.2745)(503,0.2740)(683,0.2737)(864,0.2732)(1044,0.2729)(1225,0.2726)(1405,0.2722)(1766,0.2722)(2126,0.2720)(2500,0.2716)};
\addplot[bfill=cR,const plot] coordinates {(0,0.50)(3,0.364)(7,0.319)(10,0.306)(16,0.2925)(34,0.2880)(88,0.2858)(142,0.2850)(233,0.2834)(323,0.2822)(413,0.2810)(503,0.2805)(683,0.2798)(864,0.2793)(1044,0.2790)(1225,0.2787)(1405,0.2784)(2300,0.2786)(2500,0.2786)(2500,0.2769)(2126,0.2770)(1405,0.2773)(1225,0.2775)(1044,0.2777)(864,0.2782)(683,0.2787)(503,0.2790)(413,0.2798)(323,0.2806)(233,0.2822)(142,0.2830)(88,0.2845)(34,0.2880)(16,0.297)(10,0.308)(7,0.356)(3,0.50)(0,0.50)};
\addplot[bedge,const plot,cR] coordinates {(0,0.50)(3,0.364)(7,0.319)(10,0.306)(16,0.2925)(34,0.2880)(88,0.2858)(142,0.2850)(233,0.2834)(323,0.2822)(413,0.2810)(503,0.2805)(683,0.2798)(864,0.2793)(1044,0.2790)(1225,0.2787)(1405,0.2784)(2300,0.2786)(2500,0.2786)};
\addplot[bedge,const plot,cR] coordinates {(0,0.50)(3,0.356)(7,0.308)(10,0.297)(16,0.2880)(34,0.2845)(88,0.2830)(142,0.2822)(233,0.2806)(323,0.2798)(413,0.2790)(503,0.2787)(683,0.2782)(864,0.2777)(1044,0.2775)(1225,0.2773)(1405,0.2770)(2126,0.2769)(2500,0.2767)};
\addplot[ln,const plot,cR] coordinates {(0,0.50)(3,0.36)(5,0.335)(7,0.3132)(10,0.300)(16,0.2882)(34,0.2856)(70,0.2843)(124,0.2823)(179,0.2796)(233,0.2783)(269,0.2770)(323,0.2764)(413,0.2754)(503,0.2747)(683,0.2744)(864,0.2739)(1044,0.2736)(1225,0.2733)(1405,0.2729)(1766,0.2729)(2126,0.2727)(2500,0.2724)};
\addplot[ln,dsh,const plot,cR] coordinates {(0,0.50)(3,0.362)(5,0.337)(7,0.3140)(10,0.302)(16,0.2902)(34,0.2862)(88,0.2843)(142,0.2836)(233,0.2820)(323,0.2810)(413,0.2800)(503,0.2796)(683,0.2790)(864,0.2785)(1044,0.2783)(1225,0.2780)(1405,0.2777)(1766,0.2777)(2126,0.2776)(2500,0.2774)};
% RS
\addplot[bfill=cO,const plot] coordinates {(0,0.50)(5,0.365)(20,0.3575)(34,0.354)(70,0.350)(97,0.348)(115,0.3455)(124,0.3420)(323,0.3410)(390,0.3385)(485,0.3360)(585,0.3320)(651,0.3262)(1180,0.3225)(2022,0.3200)(2500,0.3200)(2500,0.3165)(2022,0.3190)(1180,0.3203)(651,0.3218)(585,0.3271)(390,0.3370)(323,0.3380)(124,0.340)(115,0.3425)(97,0.344)(70,0.347)(34,0.351)(20,0.358)(5,0.50)(0,0.50)};
\addplot[bedge,const plot,cO] coordinates {(0,0.50)(5,0.365)(20,0.3575)(34,0.354)(70,0.350)(97,0.348)(115,0.3455)(124,0.3420)(323,0.3410)(390,0.3385)(485,0.3360)(585,0.3320)(651,0.3262)(1180,0.3225)(2022,0.3200)(2500,0.3200)};
\addplot[bedge,const plot,cO] coordinates {(0,0.50)(5,0.358)(20,0.351)(34,0.347)(70,0.344)(97,0.3425)(115,0.340)(124,0.3380)(323,0.3370)(390,0.3271)(585,0.3218)(651,0.3203)(1180,0.3190)(2022,0.3165)(2500,0.3165)};
\addplot[bfill=cO,const plot] coordinates {(0,0.50)(5,0.366)(34,0.3550)(70,0.352)(124,0.3460)(323,0.3447)(332,0.3428)(432,0.3411)(651,0.3317)(1180,0.3278)(2022,0.3244)(2366,0.3240)(2500,0.3240)(2500,0.3222)(2022,0.3230)(1180,0.3250)(681,0.3290)(585,0.3340)(485,0.3350)(395,0.3395)(386,0.3415)(323,0.3420)(124,0.346)(70,0.3500)(34,0.359)(5,0.50)(0,0.50)};
\addplot[bedge,const plot,cO] coordinates {(0,0.50)(5,0.366)(34,0.3550)(70,0.352)(124,0.3460)(323,0.3447)(332,0.3428)(432,0.3411)(651,0.3317)(1180,0.3278)(2022,0.3244)(2366,0.3240)(2500,0.3240)};
\addplot[bedge,const plot,cO] coordinates {(0,0.50)(5,0.359)(34,0.3500)(70,0.346)(124,0.3420)(323,0.3415)(386,0.3395)(395,0.3350)(485,0.3340)(585,0.3290)(681,0.3250)(1180,0.3230)(2022,0.3222)(2500,0.3222)};
\addplot[ln,const plot,cO] coordinates {(0,0.50)(5,0.362)(10,0.358)(20,0.355)(34,0.3513)(50,0.349)(70,0.3473)(97,0.3463)(115,0.3434)(124,0.3401)(200,0.3397)(300,0.3395)(332,0.3388)(386,0.3381)(390,0.3346)(485,0.3326)(510,0.3316)(527,0.3306)(585,0.3274)(651,0.3244)(800,0.3241)(1044,0.3238)(1180,0.3205)(1500,0.3201)(1700,0.3199)(2022,0.3183)(2500,0.3183)};
\addplot[ln,dsh,const plot,cO] coordinates {(0,0.50)(5,0.363)(20,0.356)(34,0.3526)(70,0.3490)(106,0.3470)(120,0.3447)(133,0.3434)(250,0.3431)(323,0.3429)(359,0.3414)(386,0.3408)(395,0.3378)(485,0.3358)(530,0.3342)(585,0.3309)(681,0.3266)(1000,0.3265)(1180,0.3244)(1590,0.3237)(1700,0.3240)(2022,0.3234)(2366,0.3231)(2500,0.3231)};
% LS
\addplot[bfill=cB,const plot] coordinates {(0,0.50)(7,0.362)(30,0.345)(50,0.330)(63,0.3150)(72,0.3100)(90,0.3000)(117,0.2880)(152,0.2855)(188,0.2840)(260,0.2820)(323,0.2800)(440,0.2795)(683,0.2785)(828,0.2765)(1044,0.2752)(1405,0.2747)(2500,0.2740)(2500,0.2735)(1405,0.2738)(1044,0.2743)(828,0.2752)(683,0.2760)(503,0.2765)(440,0.2768)(323,0.2775)(260,0.2790)(188,0.2805)(152,0.2825)(117,0.2850)(90,0.2870)(72,0.2920)(63,0.3000)(54,0.310)(43,0.338)(25,0.358)(7,0.50)(0,0.50)};
\addplot[bedge,const plot,cB] coordinates {(0,0.50)(7,0.362)(30,0.345)(50,0.330)(63,0.3150)(72,0.3100)(90,0.3000)(117,0.2880)(152,0.2855)(188,0.2840)(260,0.2820)(323,0.2800)(440,0.2795)(683,0.2785)(828,0.2765)(1044,0.2752)(1405,0.2747)(2500,0.2740)};
\addplot[bedge,const plot,cB] coordinates {(0,0.50)(7,0.358)(25,0.338)(43,0.310)(54,0.3000)(63,0.2920)(72,0.2870)(90,0.2850)(117,0.2825)(152,0.2805)(188,0.2790)(260,0.2775)(323,0.2768)(440,0.2765)(503,0.2760)(683,0.2752)(828,0.2743)(1044,0.2738)(1405,0.2735)(2500,0.2728)};
\addplot[bfill=cB,const plot] coordinates {(0,0.50)(7,0.362)(50,0.330)(72,0.3100)(99,0.3000)(126,0.2910)(170,0.2875)(233,0.2852)(503,0.2850)(683,0.2820)(864,0.2810)(1044,0.2800)(1315,0.2787)(2500,0.2780)(2500,0.2774)(1315,0.2782)(1044,0.2786)(864,0.2793)(683,0.2798)(503,0.2803)(341,0.2808)(233,0.2835)(170,0.2850)(126,0.2890)(99,0.2960)(72,0.318)(50,0.358)(7,0.50)(0,0.50)};
\addplot[bedge,const plot,cB] coordinates {(0,0.50)(7,0.362)(50,0.330)(72,0.3100)(99,0.3000)(126,0.2910)(170,0.2875)(233,0.2852)(503,0.2850)(683,0.2820)(864,0.2810)(1044,0.2800)(1315,0.2787)(2500,0.2780)};
\addplot[bedge,const plot,cB] coordinates {(0,0.50)(7,0.358)(50,0.318)(72,0.2960)(99,0.2890)(126,0.2850)(170,0.2835)(233,0.2808)(341,0.2803)(503,0.2798)(683,0.2793)(864,0.2786)(1044,0.2782)(1315,0.2774)(2500,0.2770)};
\addplot[ln,const plot,cB] coordinates {(0,0.50)(7,0.3605)(25,0.3425)(43,0.3162)(54,0.3132)(63,0.3033)(72,0.2908)(90,0.2882)(117,0.2843)(152,0.2829)(188,0.2810)(197,0.2793)(260,0.2787)(323,0.2780)(440,0.2777)(503,0.2770)(683,0.2760)(828,0.2750)(1044,0.2744)(1405,0.2741)(1766,0.2741)(2126,0.2737)(2500,0.2733)};
\addplot[ln,dsh,const plot,cB] coordinates {(0,0.50)(7,0.3605)(30,0.3430)(50,0.325)(63,0.3132)(72,0.3014)(99,0.2928)(126,0.2882)(170,0.2862)(197,0.2843)(233,0.2823)(341,0.2816)(503,0.2810)(683,0.2803)(864,0.2796)(1044,0.2789)(1315,0.2780)(1585,0.2777)(1946,0.2777)(2216,0.2774)(2500,0.2774)};
\legend{NSGA-II,MO-GOMEA,RS,LS}
\end{axis}
\end{tikzpicture}
\end{document}
